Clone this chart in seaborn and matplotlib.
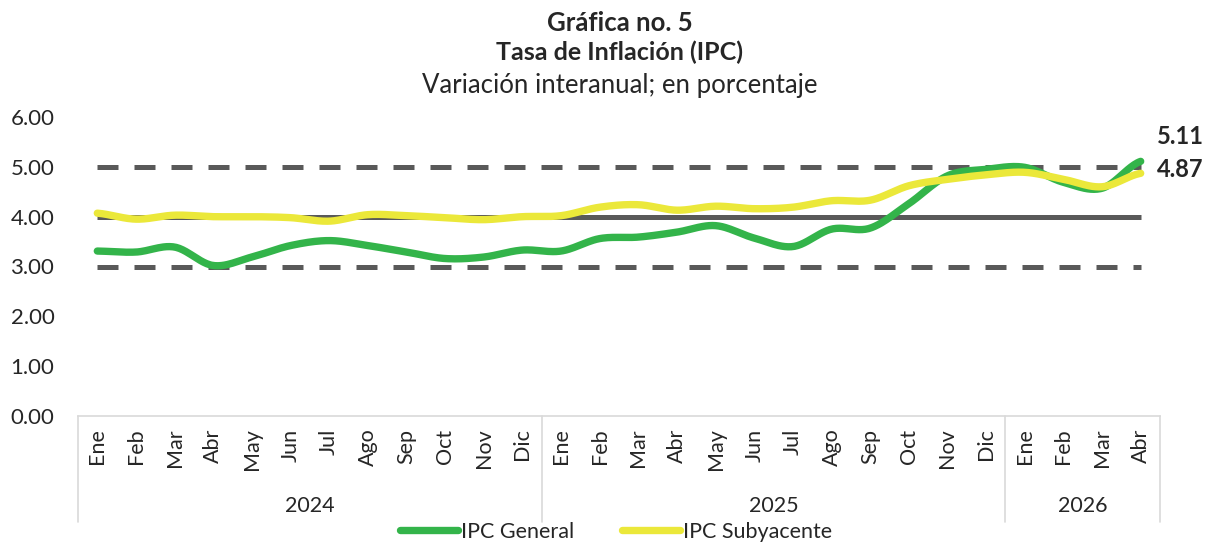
import numpy as np
import pandas as pd
import matplotlib
matplotlib.use("Agg")
from matplotlib import pyplot as plt
from matplotlib.lines import Line2D
import matplotlib.transforms as mtransforms
import seaborn as sns

# Datos (variacion interanual, %)
meses = ["Ene", "Feb", "Mar", "Abr", "May", "Jun", "Jul", "Ago", "Sep", "Oct", "Nov", "Dic",
         "Ene", "Feb", "Mar", "Abr", "May", "Jun", "Jul", "Ago", "Sep", "Oct", "Nov", "Dic",
         "Ene", "Feb", "Mar", "Abr"]
anios = ["2024", "2025", "2026"]
meses_por_anio = [12, 12, 4]
ipc_general = [3.31, 3.29, 3.39, 3.02, 3.19, 3.42, 3.52, 3.42, 3.29, 3.16, 3.19, 3.33,
               3.31, 3.56, 3.59, 3.69, 3.82, 3.57, 3.40, 3.75, 3.77, 4.26, 4.82, 4.95,
               4.99, 4.69, 4.57, 5.11]
ipc_subyacente = [4.07, 3.95, 4.03, 4.00, 4.00, 3.98, 3.91, 4.04, 4.02, 3.98, 3.94, 4.00,
                  4.02, 4.19, 4.24, 4.13, 4.21, 4.16, 4.19, 4.32, 4.33, 4.62, 4.75, 4.84,
                  4.89, 4.75, 4.60, 4.87]
meta_centro = 4.0
meta_limites = [3.0, 5.0]

VERDE = "#33b44a"
AMARILLO = "#ebe83a"
GRIS = "#595959"
GRIS_EJE = "#d9d9d9"


def suavizar(y, pasos=24):
    # curva suave tipo Excel (Catmull-Rom) entre los puntos mensuales
    y = np.asarray(y, dtype=float)
    n = len(y)
    m = np.empty(n)
    m[1:-1] = (y[2:] - y[:-2]) / 2
    m[0] = (y[1] - y[0]) / 2
    m[-1] = (y[-1] - y[-2]) / 2
    xs, ys = [], []
    for i in range(n - 1):
        t = np.linspace(0, 1, pasos, endpoint=False)
        h00 = 2 * t**3 - 3 * t**2 + 1
        h10 = t**3 - 2 * t**2 + t
        h01 = -2 * t**3 + 3 * t**2
        h11 = t**3 - t**2
        xs.append(i + t)
        ys.append(h00 * y[i] + h10 * m[i] + h01 * y[i + 1] + h11 * m[i + 1])
    xs.append([n - 1])
    ys.append([y[-1]])
    return np.concatenate(xs), np.concatenate(ys)


sns.set_style("white")
plt.rcParams["font.family"] = ["Lato", "DejaVu Sans"]

fig = plt.figure(figsize=(12.1, 5.46), dpi=100)
ax = fig.add_axes([78 / 1210, 1 - 416 / 546, (1160 - 78) / 1210, (416 - 117) / 546])

n = len(meses)
# bandas de la meta
ax.plot([0, n - 1], [meta_centro, meta_centro], color=GRIS, lw=3.6, solid_capstyle="butt", zorder=1)
for lim in meta_limites:
    ax.plot([0, n - 1], [lim, lim], color=GRIS, lw=3.6, linestyle=(0, (4.2, 3.2)),
            dash_capstyle="butt", zorder=1)

xg, yg = suavizar(ipc_general)
xs, ys = suavizar(ipc_subyacente)
sns.lineplot(x=xg, y=yg, ax=ax, color=VERDE, linewidth=5.3, sort=False, zorder=3,
             solid_capstyle="round")
sns.lineplot(x=xs, y=ys, ax=ax, color=AMARILLO, linewidth=5.3, sort=False, zorder=4,
             solid_capstyle="round")

ax.set_xlim(-0.5, n - 0.5)
ax.set_ylim(0, 6)
ax.set_yticks(range(7))
ax.set_yticklabels([f"{v:.2f}" for v in range(7)], fontsize=16)
ax.set_xticks(range(n))
ax.set_xticklabels(meses, rotation=90, fontsize=15.5)
ax.tick_params(axis="both", length=0)
ax.tick_params(axis="y", pad=17)
ax.tick_params(axis="x", pad=9)
ax.set_xlabel("")
ax.set_ylabel("")
for s in ["left", "right", "top"]:
    ax.spines[s].set_visible(False)
ax.spines["bottom"].set_color(GRIS_EJE)
ax.spines["bottom"].set_linewidth(1.2)

# eje de categorias en dos niveles
trans = mtransforms.blended_transform_factory(ax.transData, ax.transAxes)
bordes = np.concatenate([[0], np.cumsum(meses_por_anio)]) - 0.5
for b in bordes:
    ax.add_line(Line2D([b, b], [0, -0.355], transform=trans, color=GRIS_EJE, lw=1.2, clip_on=False))
for anio, a, b in zip(anios, bordes[:-1], bordes[1:]):
    ax.text((a + b) / 2, -0.30, anio, transform=trans, ha="center", va="center", fontsize=15.5)

# etiquetas del ultimo dato
ax.annotate(f"{ipc_general[-1]:.2f}", xy=(n - 1, ipc_general[-1]), xytext=(12, 18),
            textcoords="offset points", ha="left", va="center", fontsize=17, fontweight="bold")
ax.annotate(f"{ipc_subyacente[-1]:.2f}", xy=(n - 1, ipc_subyacente[-1]), xytext=(12, 3),
            textcoords="offset points", ha="left", va="center", fontsize=17, fontweight="bold")

# titulos
xt = 620 / 1210
fig.text(xt, 1 - 23 / 546, "Gráfica no. 5", ha="center", va="center", fontsize=18.5, fontweight="bold")
fig.text(xt, 1 - 52 / 546, "Tasa de Inflación (IPC)", ha="center", va="center", fontsize=18, fontweight="bold")
fig.text(xt, 1 - 85 / 546, "Variación interanual; en porcentaje", ha="center", va="center", fontsize=18.5)

handles = [Line2D([], [], color=VERDE, lw=5.3, solid_capstyle="round"),
           Line2D([], [], color=AMARILLO, lw=5.3, solid_capstyle="round")]
fig.legend(handles, ["IPC General", "IPC Subyacente"], loc="center",
           bbox_to_anchor=(0.509, 1 - 532 / 546), ncol=2, frameon=False, fontsize=15.5,
           handlelength=2.7, handletextpad=0.15, columnspacing=2.2, borderpad=0)

fig.savefig("out.png", dpi=100)
